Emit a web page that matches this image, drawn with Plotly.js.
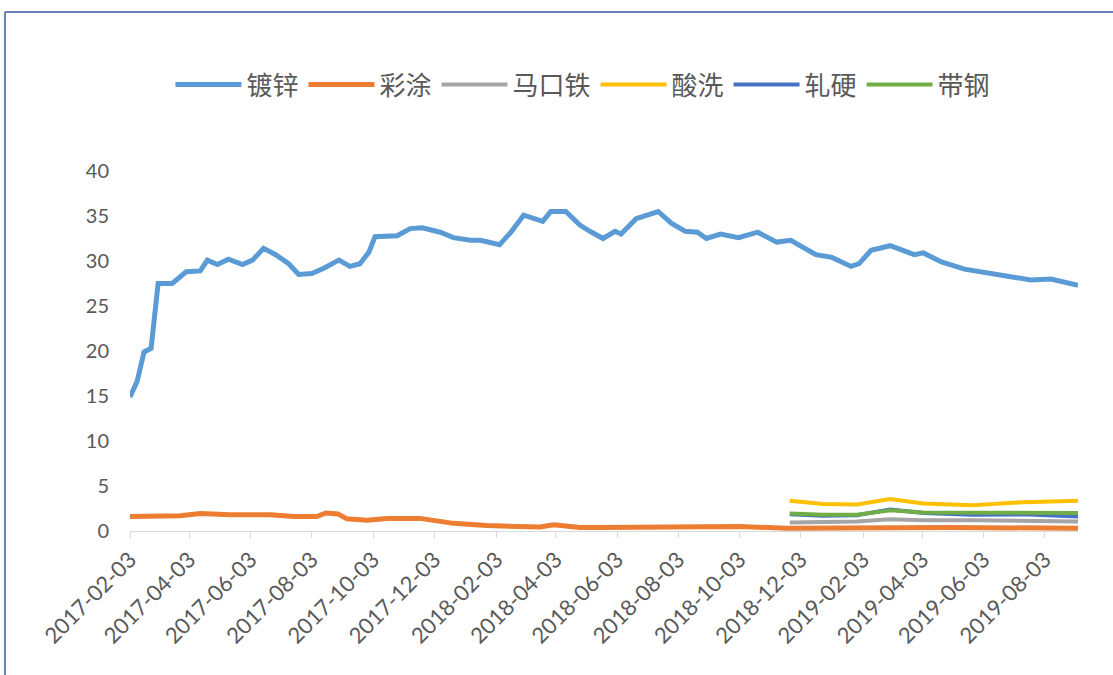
<!DOCTYPE html>
<html>
<head>
<meta charset="utf-8">
<script src="https://cdn.plot.ly/plotly-3.0.1.min.js"></script>
<style>
  html, body { margin: 0; padding: 0; background: #ffffff; }
  #chart { width: 1113px; height: 675px; }
</style>
</head>
<body>
<div id="chart"></div>
<script>
// ---- Data ----
const seriesNames = ["镀锌", "彩涂", "马口铁", "酸洗", "轧硬", "带钢"];

const duxinDates = [
  "2017-02-03","2017-02-10","2017-02-17","2017-02-24","2017-03-03","2017-03-17","2017-03-31",
  "2017-04-14","2017-04-21","2017-05-01","2017-05-12","2017-05-26","2017-06-05","2017-06-16",
  "2017-06-28","2017-07-11","2017-07-21","2017-08-03","2017-08-15","2017-08-30","2017-09-10",
  "2017-09-20","2017-09-29","2017-10-05","2017-10-27","2017-11-09","2017-11-21","2017-12-09",
  "2017-12-22","2018-01-08","2018-01-18","2018-02-06","2018-02-18","2018-03-02","2018-03-21",
  "2018-03-29","2018-04-13","2018-04-27","2018-05-07","2018-05-20","2018-06-01","2018-06-07",
  "2018-06-22","2018-07-14","2018-07-27","2018-08-10","2018-08-22","2018-08-31","2018-09-14",
  "2018-10-02","2018-10-21","2018-11-09","2018-11-23","2018-12-18","2019-01-03","2019-01-22",
  "2019-01-30","2019-02-11","2019-03-02","2019-03-16","2019-03-26","2019-04-04","2019-04-22",
  "2019-05-15","2019-06-08","2019-06-27","2019-07-20","2019-08-09","2019-09-05"
];
const duxinValues = [
  14.9,16.6,19.9,20.3,27.5,27.5,28.8,
  28.9,30.1,29.6,30.2,29.6,30.1,31.4,
  30.7,29.7,28.5,28.6,29.2,30.1,29.4,
  29.7,31.0,32.7,32.8,33.6,33.7,33.2,
  32.6,32.3,32.3,31.8,33.3,35.1,34.4,
  35.5,35.5,34.0,33.3,32.5,33.3,33.0,
  34.7,35.5,34.2,33.3,33.2,32.5,33.0,
  32.6,33.2,32.1,32.3,30.7,30.4,29.4,
  29.7,31.2,31.7,31.1,30.7,30.9,29.9,
  29.1,28.6,28.3,27.9,28.0,27.3
];

const caituDates = [
  "2017-02-03","2017-03-25","2017-04-14","2017-05-14","2017-06-23","2017-07-16","2017-08-08",
  "2017-08-17","2017-08-29","2017-09-07","2017-09-27","2017-10-17","2017-11-19","2017-12-06",
  "2017-12-22","2018-01-24","2018-02-27","2018-03-18","2018-04-01","2018-04-14","2018-04-27",
  "2018-05-17","2018-08-14","2018-10-03","2018-11-19","2019-01-21","2019-04-30","2019-09-05"
];
const caituValues = [
  1.6,1.7,1.95,1.8,1.8,1.6,1.6,
  2.0,1.9,1.35,1.2,1.4,1.4,1.15,
  0.85,0.6,0.45,0.45,0.7,0.6,0.4,
  0.4,0.55,0.5,0.3,0.35,0.4,0.3
];

const lateDates = [
  "2018-11-22","2018-12-25","2019-01-28","2019-03-02","2019-04-04","2019-05-23","2019-07-12","2019-09-05"
];
const makoutieValues = [0.95,1.0,1.05,1.3,1.2,1.2,1.15,1.05];
const suanxiValues   = [3.35,3.0,2.95,3.55,3.05,2.85,3.2,3.35];
const zhayingValues  = [1.85,1.7,1.75,2.4,2.0,1.8,1.85,1.6];
const daigangValues  = [1.95,1.8,1.8,2.3,2.05,2.0,2.05,2.0];

const xTickLabels = [
  "2017-02-03","2017-04-03","2017-06-03","2017-08-03","2017-10-03","2017-12-03",
  "2018-02-03","2018-04-03","2018-06-03","2018-08-03","2018-10-03","2018-12-03",
  "2019-02-03","2019-04-03","2019-06-03","2019-08-03"
];
const yTickValues = [0,5,10,15,20,25,30,35,40];

const colors = ["#5B9BD5","#ED7D31","#A5A5A5","#FFC000","#4472C4","#70AD47"];
const widths = [5, 5, 4, 4, 4, 4];

const xs = [duxinDates, caituDates, lateDates, lateDates, lateDates, lateDates];
const ys = [duxinValues, caituValues, makoutieValues, suanxiValues, zhayingValues, daigangValues];

const traces = seriesNames.map((name, i) => ({
  type: "scatter",
  mode: "lines",
  name: name,
  x: xs[i],
  y: ys[i],
  line: { color: colors[i], width: widths[i] },
  hoverinfo: "x+y+name"
}));

const numFont = "Lato, 'Liberation Sans', sans-serif";

const layout = {
  width: 1113,
  height: 675,
  margin: { l: 130, r: 35, t: 171, b: 144 },
  paper_bgcolor: "#ffffff",
  plot_bgcolor: "#ffffff",
  showlegend: true,
  legend: {
    orientation: "h",
    x: 0.0427,
    xanchor: "left",
    y: 1.24,
    yanchor: "middle",
    itemwidth: 66,
    font: { family: "'Noto Sans CJK SC', sans-serif", size: 26, color: "#595959" },
    bgcolor: "rgba(0,0,0,0)"
  },
  xaxis: {
    type: "date",
    range: ["2017-02-03", "2019-09-05"],
    tickvals: xTickLabels,
    ticktext: xTickLabels,
    tickangle: -45,
    tickfont: { family: numFont, size: 22, color: "#595959" },
    showgrid: false,
    zeroline: false,
    showline: true,
    linecolor: "#d9d9d9",
    linewidth: 1,
    ticks: "outside",
    ticklen: 6,
    tickcolor: "#d9d9d9",
    fixedrange: true
  },
  yaxis: {
    range: [0, 40],
    tickvals: yTickValues,
    ticktext: yTickValues.map(String),
    tickfont: { family: numFont, size: 20, color: "#595959" },
    showgrid: false,
    zeroline: false,
    showline: false,
    ticks: "",
    ticklabelstandoff: 20,
    fixedrange: true
  },
  shapes: [
    { type: "line", xref: "paper", yref: "paper", x0: -0.1319, x1: 1.2, y0: 1.4417, y1: 1.4417,
      line: { color: "#6a80b8", width: 2 } },
    { type: "line", xref: "paper", yref: "paper", x0: -0.1319, x1: -0.1319, y0: 1.4417, y1: -0.6,
      line: { color: "#6a80b8", width: 2 } }
  ]
};

Plotly.newPlot("chart", traces, layout, { displayModeBar: false, staticPlot: true });
</script>
</body>
</html>
